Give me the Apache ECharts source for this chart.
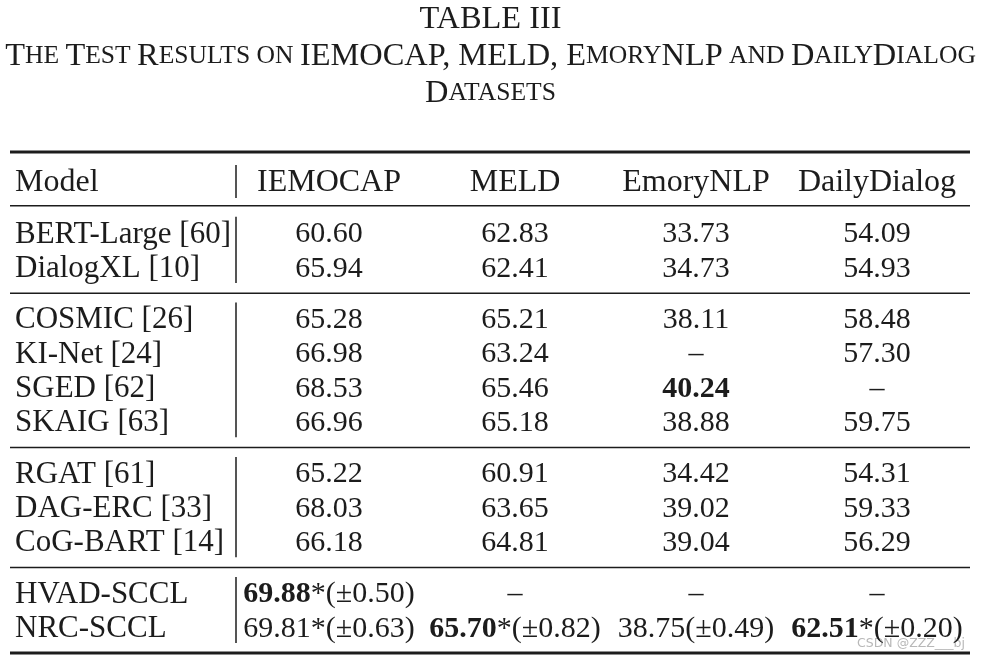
<!DOCTYPE html>
<html>
<head>
<meta charset="utf-8">
<script src="https://cdn.jsdelivr.net/npm/echarts@6/dist/echarts.min.js"></script>
<style>
html,body{margin:0;padding:0;background:#fff;}
#chart{width:981px;height:661px;}
</style>
</head>
<body>
<div id="chart"></div>
<script>
// ---------- data ----------
const models = ['BERT-Large [60]', 'DialogXL [10]', 'COSMIC [26]', 'KI-Net [24]', 'SGED [62]', 'SKAIG [63]',
                'RGAT [61]', 'DAG-ERC [33]', 'CoG-BART [14]', 'HVAD-SCCL', 'NRC-SCCL'];
const groups = [0, 0, 1, 1, 1, 1, 2, 2, 2, 3, 3];
const datasets = ['IEMOCAP', 'MELD', 'EmoryNLP', 'DailyDialog'];
const iemocap     = [60.60, 65.94, 65.28, 66.98, 68.53, 66.96, 65.22, 68.03, 66.18, 69.88, 69.81];
const meld        = [62.83, 62.41, 65.21, 63.24, 65.46, 65.18, 60.91, 63.65, 64.81, null, 65.70];
const emorynlp    = [33.73, 34.73, 38.11, null, 40.24, 38.88, 34.42, 39.02, 39.04, null, 38.75];
const dailydialog = [54.09, 54.93, 58.48, 57.30, null, 59.75, 54.31, 59.33, 56.29, null, 62.51];
const iemocapStd     = [null, null, null, null, null, null, null, null, null, 0.50, 0.63];
const meldStd        = [null, null, null, null, null, null, null, null, null, null, 0.82];
const emorynlpStd    = [null, null, null, null, null, null, null, null, null, null, 0.49];
const dailydialogStd = [null, null, null, null, null, null, null, null, null, null, 0.20];
const iemocapStar     = [0, 0, 0, 0, 0, 0, 0, 0, 0, 1, 1];
const meldStar        = [0, 0, 0, 0, 0, 0, 0, 0, 0, 0, 1];
const emorynlpStar    = [0, 0, 0, 0, 0, 0, 0, 0, 0, 0, 0];
const dailydialogStar = [0, 0, 0, 0, 0, 0, 0, 0, 0, 0, 1];
const titleLine1 = 'TABLE III';
const watermark = 'CSDN @ZZZ___bj';

// ---------- layout ----------
const FONT = '"Liberation Serif", "DejaVu Serif", serif';
const INK = '#1c1c1c';
const NUM_SIZE = 30;
const NAME_SIZE = 31;
const HEAD_SIZE = 32;
const TEXT_DY = 3;
const modelX = 15;
const colCenters = [329, 515, 696, 877];
const barX = 236;
const ruleX0 = 10, ruleX1 = 970;

const columns = [
  { vals: iemocap, std: iemocapStd, star: iemocapStar },
  { vals: meld, std: meldStd, star: meldStar },
  { vals: emorynlp, std: emorynlpStd, star: emorynlpStar },
  { vals: dailydialog, std: dailydialogStd, star: dailydialogStar }
];

// row slot (units): header 0, body rows 2 per row plus 1 per group gap
const rowUnit = models.map((m, i) => 3 + 2 * i + groups[i]);

// cells
const cells = [];
cells.push({ x: modelX, y: 0, text: 'Model', align: 'left', size: HEAD_SIZE });
datasets.forEach((d, j) => cells.push({ x: colCenters[j], y: 0, text: d, align: 'center', size: HEAD_SIZE }));
models.forEach((m, i) => {
  cells.push({ x: modelX, y: rowUnit[i], text: m, align: 'left', size: NAME_SIZE });
  columns.forEach((c, j) => {
    const v = c.vals[i];
    let t;
    if (v === null) {
      t = '–';
    } else {
      const max = Math.max.apply(null, c.vals.filter(x => x !== null));
      const num = v.toFixed(2);
      t = (v === max ? '{b|' + num + '}' : num) + (c.star[i] ? '*' : '') +
          (c.std[i] !== null ? '(±' + c.std[i].toFixed(2) + ')' : '');
    }
    cells.push({ x: colCenters[j], y: rowUnit[i], text: t, align: 'center', size: NUM_SIZE });
  });
});

// horizontal rules
const lastRow = rowUnit[rowUnit.length - 1];
const rules = [[-1.63, 3], [1.5, 1.5], [lastRow + 1.58, 3]];
for (let i = 1; i < models.length; i++) {
  if (groups[i] !== groups[i - 1]) rules.push([(rowUnit[i - 1] + rowUnit[i]) / 2 + 0.1, 1.5]);
}
// vertical bars per block
const bars = [[-0.87, 1.05]];
let start = 0;
for (let i = 1; i <= models.length; i++) {
  if (i === models.length || groups[i] !== groups[i - 1]) {
    bars.push([rowUnit[start] - 0.85, rowUnit[i - 1] + 1.0]);
    start = i;
  }
}

const chart = echarts.init(document.getElementById('chart'), null, { renderer: 'canvas' });

const BIG = 32.4, SMALL = 25.6;
const titleText =
  '{b|' + titleLine1 + '}\n' +
  '{b|T}{s|HE }{b|T}{s|EST }{b|R}{s|ESULTS ON }{b|IEMOCAP, MELD, E}{s|MORY}{b|NLP}{s| AND }{b|D}{s|AILY}{b|D}{s|IALOG}\n' +
  '{b|D}{s|ATASETS}';

chart.setOption({
  animation: false,
  backgroundColor: '#ffffff',
  grid: { left: 0, width: 981, top: 145.7, height: 514.5 },
  xAxis: { type: 'value', min: 0, max: 981, show: false },
  yAxis: { type: 'value', min: -2, max: 28, inverse: true, show: false },
  graphic: [
    {
      type: 'text', x: 490.5, y: 1,
      style: {
        text: titleText, align: 'center', verticalAlign: 'top',
        fill: INK, fontFamily: FONT, fontSize: SMALL, lineHeight: 37,
        rich: {
          b: { fontSize: BIG, fontFamily: FONT, fill: INK, lineHeight: 37 },
          s: { fontSize: SMALL, fontFamily: FONT, fill: INK, lineHeight: 37 }
        }
      }
    },
    {
      type: 'text', right: 16, top: 637,
      style: { text: watermark, fill: '#b8b8b8', fontSize: 12.5, fontFamily: '"DejaVu Sans", sans-serif' }
    }
  ],
  series: [
    {
      type: 'custom',
      name: 'rules',
      data: rules.map(r => [r[0], r[1]]),
      renderItem: function (params, api) {
        const y = api.value(0);
        const p0 = api.coord([ruleX0, y]);
        const p1 = api.coord([ruleX1, y]);
        return {
          type: 'line',
          shape: { x1: p0[0], y1: p0[1], x2: p1[0], y2: p1[1] },
          style: { stroke: INK, lineWidth: api.value(1) }
        };
      },
      silent: true
    },
    {
      type: 'custom',
      name: 'bars',
      data: bars,
      renderItem: function (params, api) {
        const p0 = api.coord([barX, api.value(0)]);
        const p1 = api.coord([barX, api.value(1)]);
        return {
          type: 'line',
          shape: { x1: p0[0], y1: p0[1], x2: p1[0], y2: p1[1] },
          style: { stroke: INK, lineWidth: 1.5 }
        };
      },
      silent: true
    },
    {
      type: 'custom',
      name: 'cells',
      data: cells.map((c, k) => [c.x, c.y, k]),
      renderItem: function (params, api) {
        const c = cells[api.value(2)];
        const p = api.coord([api.value(0), api.value(1)]);
        return {
          type: 'text',
          x: p[0], y: p[1] + TEXT_DY,
          style: {
            text: c.text, align: c.align, verticalAlign: 'middle',
            fill: INK, fontFamily: FONT, fontSize: c.size,
            rich: { b: { fontWeight: 'bold', fontFamily: FONT, fontSize: c.size, fill: INK } }
          }
        };
      },
      silent: true
    }
  ]
});
</script>
</body>
</html>
